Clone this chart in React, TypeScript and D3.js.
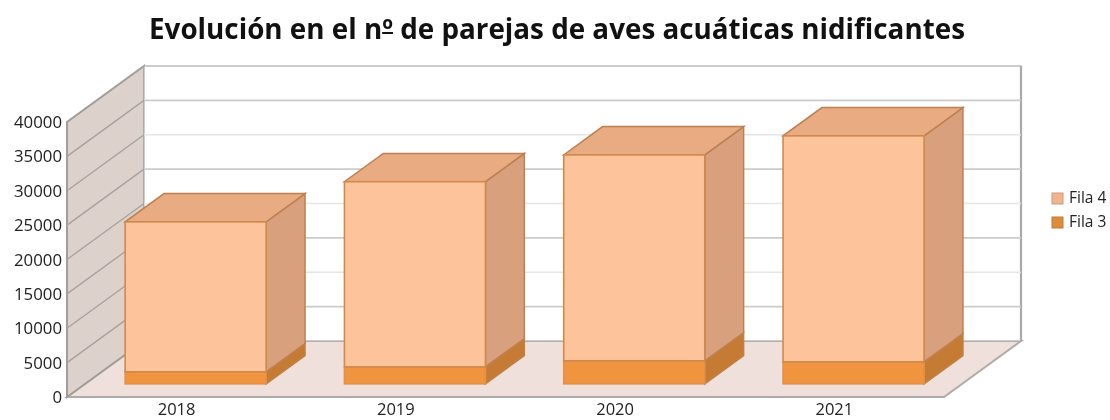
import React, { useLayoutEffect, useRef, useState } from "react";
import * as d3 from "d3";

const title = "Evolución en el nº de parejas de aves acuáticas nidificantes";
const categories = ["2018", "2019", "2020", "2021"];
const fila3 = [1750, 2470, 3350, 3200];
const fila4 = [21810, 26930, 29950, 32870];
const yTicks = [0, 5000, 10000, 15000, 20000, 25000, 30000, 35000, 40000];
const legendItems = [
  { label: "Fila 4", fill: "#f2b48c", stroke: "#c99a80" },
  { label: "Fila 3", fill: "#e08a3c", stroke: "#c4793a" },
];

const FONT = "'Open Sans', sans-serif";
const W = 1110, H = 420;
const x0 = 67, x1 = 944, yBase = 397, yTop = 122;
const dx = 77, dy = -56;
const barFront = 0.235, barDepth = 0.505;

export default function App() {
  const titleRef = useRef<SVGTextElement>(null);
  const [ord, setOrd] = useState<{ x: number; w: number } | null>(null);
  useLayoutEffect(() => {
    const e = titleRef.current!.getExtentOfChar(title.indexOf("º"));
    setOrd({ x: e.x, w: e.width });
  }, []);

  const y = d3.scaleLinear().domain([0, 40000]).range([yBase, yTop]);
  const labelX = d3.scaleBand<string>().domain(categories).range([x0, x1]);
  const fx = dx * barFront + 1, fy = dy * barFront;
  const bx = d3.scaleBand<string>().domain(categories)
    .range([x0 + fx, x1 + fx]).paddingInner(0.357).paddingOuter(0.178);
  const ddx = dx * barDepth, ddy = dy * barDepth;
  const pts = (p: number[][]) => p.map((q) => q.join(",")).join(" ");

  const segment = (cat: string, lo: number, hi: number, front: string, side: string, sideStroke: string, frontStroke: string, top?: string) => {
    const l = bx(cat)!, r = l + bx.bandwidth();
    const yl = y(lo) + fy, yh = y(hi) + fy;
    return (
      <g key={cat + lo}>
        <polygon points={pts([[r, yl], [r + ddx, yl + ddy], [r + ddx, yh + ddy], [r, yh]])} fill={side} stroke={sideStroke} strokeWidth={1.5} />
        {top && <polygon points={pts([[l, yh], [r, yh], [r + ddx, yh + ddy], [l + ddx, yh + ddy]])} fill={top} stroke={sideStroke} strokeWidth={1.5} />}
        <rect x={l} y={yh} width={r - l} height={yl - yh} fill={front} stroke={frontStroke} strokeWidth={1.6} />
      </g>
    );
  };

  return (
    <svg width={W} height={H} style={{ position: "absolute", left: 0, top: 0, background: "#fff", filter: "blur(0.4px)" }}>
      <text ref={titleRef} x={557} y={39} textAnchor="middle" fontFamily={FONT} fontWeight={700} fontSize={27.8} fill="#111">
        {title}
      </text>
      {ord && <line x1={ord.x} x2={ord.x + ord.w} y1={33} y2={33} stroke="#111" strokeWidth={2} />}

      <polygon points={pts([[x0, yBase], [x0 + dx, yBase + dy], [x1 + dx, yBase + dy], [x1, yBase]])} fill="#efe0dc" stroke="#b0abaa" strokeWidth={2} />
      <polygon points={pts([[x0, yBase], [x0 + dx, yBase + dy], [x0 + dx, yTop + dy], [x0, yTop]])} fill="#ddd1cc" stroke="#a09d9b" strokeWidth={2} />
      <rect x={x0 + dx} y={yTop + dy} width={x1 - x0} height={yBase - yTop} fill="#fff" stroke="#b3b3b3" strokeWidth={1.3} />
      <line x1={x1 + dx} x2={x1 + dx} y1={yTop + dy} y2={yBase + dy} stroke="#a9a9a9" strokeWidth={2.2} />

      {yTicks.slice(1, -1).map((t, i) => (
        <g key={t}>
          <line x1={x0} y1={y(t)} x2={x0 + dx} y2={y(t) + dy} stroke="#a8a19e" strokeWidth={1.3} />
          <line x1={x0 + dx} x2={x1 + dx} y1={y(t) + dy} y2={y(t) + dy} stroke={i % 2 === 0 ? "#c9cccd" : "#e3e6e8"} strokeWidth={1.6} />
        </g>
      ))}

      {categories.map((c, i) => (
        <g key={c}>
          {segment(c, 0, fila3[i], "#f09440", "#c67b35", "#c08040", "#e39148")}
          {segment(c, fila3[i], fila3[i] + fila4[i], "#fdc49c", "#d8a07c", "#bd8052", "#d18a4c", "#e9ab82")}
        </g>
      ))}

      {yTicks.map((t) => (
        <text key={t} x={62} y={y(t) + 6} textAnchor="end" fontFamily={FONT} fontSize={16.8} fill="#222">{t}</text>
      ))}
      {categories.map((c) => (
        <text key={c} x={labelX(c)! + labelX.bandwidth() / 2} y={415} textAnchor="middle" fontFamily={FONT} fontSize={16.5} fill="#222">{c}</text>
      ))}

      {legendItems.map((d, i) => (
        <g key={d.label}>
          <rect x={1052} y={193 + i * 24} width={11} height={11} fill={d.fill} stroke={d.stroke} />
          <text x={1069} y={203 + i * 24} fontFamily={FONT} fontSize={15.5} fill="#222">{d.label}</text>
        </g>
      ))}
    </svg>
  );
}
